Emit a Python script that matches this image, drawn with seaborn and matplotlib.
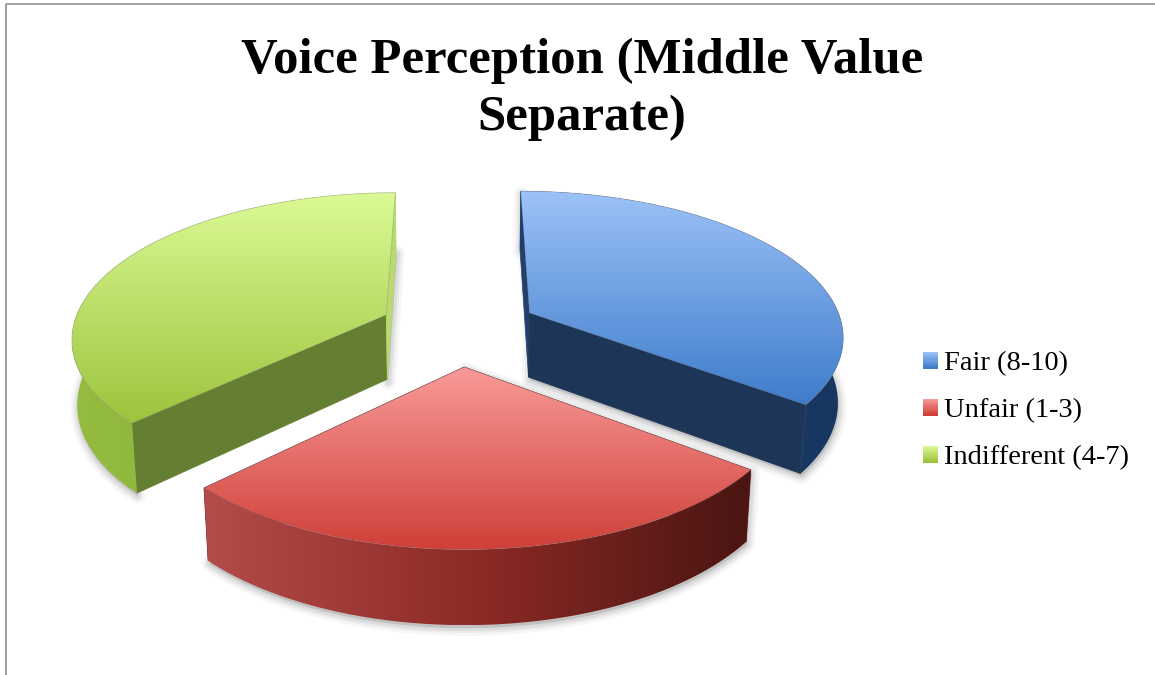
import numpy as np
import seaborn as sns
import matplotlib.pyplot as plt
from matplotlib.legend_handler import HandlerBase
from matplotlib.patches import Patch, Polygon, Rectangle

categories = ['Fair (8-10)', 'Unfair (1-3)', 'Indifferent (4-7)']
shares = [35.3, 27.4, 37.3]
title_lines = ['Voice Perception (Middle Value', 'Separate)']

# gradients for each slice
top_colors = [['#9CC2F8', '#3E7CCB'], ['#F99A98', '#CF3F38'], ['#DBFA96', '#9CC43C']]
wall_colors = [['#1E3E6C', '#173660'], ['#B34C4A', '#8C2A26', '#4A1512'], ['#94BC40', '#8DB33C', '#B8DA6E']]
start_face = ['#22406C', '#6B1F1C', '#647F32']
end_face = ['#1D3557', '#5A1A18', '#B8DA6E']

# projection of the tilted pie, in pixels
CX, CY = 459, 329
S, T, K, M, D = 314, 0.458, 0.145, 0.014, 66
START, EXPLODE = 0, 0.255


def project(x, y, z=0.0):
    w = 1 + K * y + M * z
    return CX + S * x / w, CY + (-S * T * y + D * z) / w


def gradient_fill(ax, pts, colors, zorder, horizontal=False):
    cmap = sns.blend_palette(colors, as_cmap=True)
    x0, y0 = pts.min(axis=0)
    x1, y1 = pts.max(axis=0)
    ramp = np.linspace(0, 1, 256)
    ramp = ramp[None, :] if horizontal else ramp[:, None]
    im = ax.imshow(ramp, cmap=cmap, extent=(x0, x1, y1, y0), aspect='auto', vmin=0, vmax=1, zorder=zorder)
    im.set_clip_path(Polygon(pts, transform=ax.transData))


class GradientSwatch(HandlerBase):
    def create_artists(self, legend, orig, xd, yd, width, height, fontsize, trans):
        cols = sns.blend_palette(orig.grad, 15)
        return [Rectangle((-xd, -yd + height * (14 - i) / 15), width, height / 15 + 0.3,
                          fc=c, ec='none', transform=trans) for i, c in enumerate(cols)]


sns.set_theme(style='white')
plt.rcParams['font.family'] = ['Liberation Serif', 'DejaVu Serif']

fig = plt.figure(figsize=(11.55, 6.75), dpi=100)
ax = fig.add_axes([0, 0, 1, 1])
ax.set_autoscale_on(False)
ax.set_xlim(0, 1155)
ax.set_ylim(675, 0)
ax.axis('off')

# frame of the pasted chart
ax.plot([6, 6, 1155], [675, 4, 4], color='#999999', lw=1.3)

angle = START
for i, share in enumerate(shares):
    sweep = share / sum(shares) * 360
    a = np.radians(np.linspace(angle, angle + sweep, 120))
    mid = np.radians(angle + sweep / 2)
    ox, oy = EXPLODE * np.sin(mid), EXPLODE * np.cos(mid)
    arc_top = np.array(project(ox + np.sin(a), oy + np.cos(a))).T
    arc_bot = np.array(project(ox + np.sin(a), oy + np.cos(a), 1.0)).T
    apex_top = np.array(project(ox, oy))
    apex_bot = np.array(project(ox, oy, 1.0))
    top = np.vstack([apex_top, arc_top])
    wall = np.vstack([arc_top, arc_bot[::-1]])
    z = 2 + i * 10

    # soft shadow
    for lw, al in zip((11, 7, 4), (0.05, 0.07, 0.09)):
        ax.add_patch(Polygon(np.vstack([arc_bot, apex_bot, apex_top, arc_top[0]]) + [1, 3], closed=True,
                             fc='#555555', ec='#555555', lw=lw, alpha=al, joinstyle='round', zorder=z))

    ax.add_patch(Polygon(np.vstack([apex_top, arc_top[0], arc_bot[0], apex_bot]), fc=start_face[i],
                         ec=start_face[i], lw=0.5, zorder=z + 1))
    ax.add_patch(Polygon(np.vstack([apex_top, arc_top[-1], arc_bot[-1], apex_bot]), fc=end_face[i],
                         ec=end_face[i], lw=0.5, zorder=z + 1))
    gradient_fill(ax, wall, wall_colors[i], z + 2, horizontal=True)
    gradient_fill(ax, top, top_colors[i], z + 3)
    ax.add_patch(Polygon(top, fc='none', ec='#777777', lw=0.6, alpha=0.35, zorder=z + 4))
    angle += sweep

for line, y in zip(title_lines, (73, 130)):
    ax.text(582, y, line, ha='center', va='baseline', fontsize=36.5, fontweight='bold', color='black')

handles = [Patch(label=c) for c in categories]
for h, c in zip(handles, top_colors):
    h.grad = c
ax.legend(handles=handles, loc='center left', bbox_to_anchor=(923 / 1155, 1 - 411 / 675), frameon=False,
          fontsize=20.5, handler_map={Patch: GradientSwatch()}, handlelength=0.53, handleheight=0.53,
          handletextpad=0.21, labelspacing=0.77, borderaxespad=0, borderpad=0, labelcolor='black')

fig.savefig('out.png', dpi=100)
